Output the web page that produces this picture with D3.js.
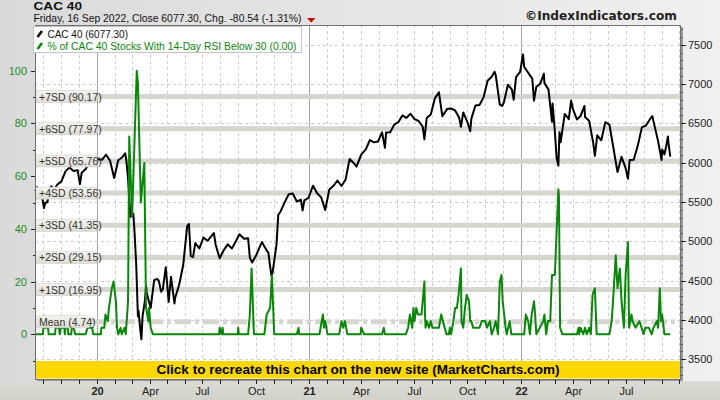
<!DOCTYPE html>
<html><head><meta charset="utf-8">
<script src="https://cdn.jsdelivr.net/npm/d3@7"></script>
<style>html,body{margin:0;padding:0;background:#e4e4e4}svg{display:block}</style>
</head><body><svg id="c" width="720" height="400"></svg>
<script>
// ---------- DATA ----------
const cacDates = ["2019-09-17","2019-09-20","2019-09-24","2019-09-27","2019-10-02","2019-10-04","2019-10-08","2019-10-11","2019-10-15","2019-10-18","2019-10-25","2019-11-01","2019-11-08","2019-11-15","2019-11-22","2019-11-29","2019-12-03","2019-12-06","2019-12-13","2019-12-20","2019-12-27",
"2020-01-03","2020-01-10","2020-01-17","2020-01-24","2020-01-31","2020-02-07","2020-02-14","2020-02-19","2020-02-21","2020-02-24","2020-02-28","2020-03-04","2020-03-06","2020-03-09","2020-03-12","2020-03-13","2020-03-16","2020-03-18","2020-03-20","2020-03-24","2020-03-26","2020-03-27","2020-04-01","2020-04-03","2020-04-09","2020-04-14","2020-04-17","2020-04-21","2020-04-24","2020-04-29","2020-05-04","2020-05-08","2020-05-14","2020-05-15","2020-05-22","2020-05-29","2020-06-05","2020-06-08","2020-06-11","2020-06-15","2020-06-19","2020-06-26","2020-07-03","2020-07-10","2020-07-17","2020-07-21","2020-07-24","2020-07-31","2020-08-07","2020-08-14","2020-08-21","2020-08-28","2020-09-03","2020-09-11","2020-09-18","2020-09-21","2020-09-25","2020-10-02","2020-10-09","2020-10-12","2020-10-16","2020-10-23","2020-10-28","2020-10-30","2020-11-06","2020-11-09","2020-11-13","2020-11-20","2020-11-27","2020-12-04","2020-12-11","2020-12-18","2020-12-21","2020-12-24","2020-12-31",
"2021-01-08","2021-01-15","2021-01-22","2021-01-29","2021-02-05","2021-02-12","2021-02-19","2021-02-26","2021-03-05","2021-03-12","2021-03-19","2021-03-24","2021-03-26","2021-04-01","2021-04-09","2021-04-16","2021-04-23","2021-04-30","2021-05-07","2021-05-12","2021-05-14","2021-05-21","2021-05-28","2021-06-04","2021-06-11","2021-06-18","2021-06-25","2021-07-02","2021-07-09","2021-07-16","2021-07-19","2021-07-23","2021-07-30","2021-08-06","2021-08-13","2021-08-19","2021-08-27","2021-09-03","2021-09-10","2021-09-17","2021-09-20","2021-09-24","2021-10-01","2021-10-06","2021-10-08","2021-10-15","2021-10-22","2021-10-29","2021-11-05","2021-11-12","2021-11-17","2021-11-19","2021-11-26","2021-11-30","2021-12-03","2021-12-10","2021-12-17","2021-12-20","2021-12-24","2021-12-31",
"2022-01-05","2022-01-07","2022-01-14","2022-01-21","2022-01-24","2022-01-28","2022-02-04","2022-02-10","2022-02-11","2022-02-18","2022-02-24","2022-02-25","2022-03-01","2022-03-04","2022-03-07","2022-03-09","2022-03-11","2022-03-18","2022-03-25","2022-03-29","2022-04-01","2022-04-08","2022-04-14","2022-04-21","2022-04-22","2022-04-29","2022-05-06","2022-05-09","2022-05-13","2022-05-20","2022-05-27","2022-06-03","2022-06-10","2022-06-16","2022-06-17","2022-06-24","2022-07-01","2022-07-05","2022-07-08","2022-07-15","2022-07-22","2022-07-29","2022-08-05","2022-08-12","2022-08-16","2022-08-19","2022-08-26","2022-09-01","2022-09-02","2022-09-06","2022-09-09","2022-09-12","2022-09-13","2022-09-16"];
const cacValues = [5640,5690,5580,5640,5422,5488,5500,5665,5700,5636,5722,5762,5889,5939,5894,5905,5727,5871,5919,6021,6037,
6044,6037,6101,6024,5806,6030,6069,6120,6029,5792,5310,5350,5139,4708,4044,4118,3881,3754,4048,4242,4432,4351,4207,4154,4507,4523,4499,4358,4393,4671,4230,4550,4210,4278,4445,4695,5197,5220,4816,4800,4979,4910,5049,5007,5069,5105,4957,4784,4889,4962,4909,5002,5090,5034,5039,4792,4730,4824,4946,4990,4935,4851,4571,4594,4960,5336,5380,5495,5598,5609,5507,5528,5393,5522,5551,
5707,5611,5559,5399,5659,5703,5773,5703,5782,6046,5997,5948,5989,6103,6169,6288,6258,6269,6385,6188,6385,6386,6484,6515,6600,6569,6622,6553,6530,6460,6296,6568,6613,6817,6896,6590,6681,6689,6663,6570,6455,6638,6518,6400,6560,6727,6733,6830,7041,7091,7156,7112,6739,6721,6765,6991,6927,6800,7086,7153,
7376,7219,7143,7068,6788,6965,7007,7130,7011,6929,6521,6752,6396,6061,5962,6388,6260,6620,6553,6790,6684,6549,6589,6721,6581,6534,6258,6087,6348,6285,6515,6485,6187,5920,5882,6074,5931,5795,6033,6036,6217,6449,6472,6553,6593,6496,6274,6034,6167,6105,6212,6333,6245,6077];

const rsiDates = ["2019-09-17","2019-09-30","2019-10-01","2019-10-09","2019-10-10","2019-10-21","2019-10-22","2019-10-28","2019-10-29","2019-10-31","2019-11-06","2019-11-07","2019-11-08","2019-11-12","2019-11-13","2019-11-18","2019-11-19","2019-11-22","2019-11-25","2019-12-13","2019-12-16","2019-12-24","2019-12-26",
"2020-01-08","2020-01-09","2020-01-14","2020-01-16","2020-01-20","2020-01-22","2020-01-27","2020-01-30","2020-02-03","2020-02-05","2020-02-07","2020-02-11","2020-02-13","2020-02-18","2020-02-20","2020-02-24","2020-02-26","2020-03-02","2020-03-10","2020-03-12","2020-03-17","2020-03-23","2020-03-26","2020-03-30","2020-03-31","2020-04-03","2020-04-07","2020-07-30","2020-07-31","2020-08-03","2020-08-05","2020-08-06","2020-08-31","2020-09-01","2020-09-02","2020-09-18","2020-09-21","2020-09-24","2020-09-28","2020-10-16","2020-10-20","2020-10-26","2020-10-29","2020-11-02","2020-12-11","2020-12-14","2020-12-15",
"2021-01-19","2021-01-21","2021-01-25","2021-01-27","2021-01-29","2021-02-02","2021-02-22","2021-02-24","2021-02-26","2021-03-01","2021-03-04","2021-03-08","2021-03-31","2021-04-01","2021-04-06","2021-05-07","2021-05-10","2021-05-12","2021-06-17","2021-06-21","2021-06-24","2021-06-28","2021-06-30","2021-07-02","2021-07-05","2021-07-08","2021-07-14","2021-07-19","2021-07-20","2021-07-21","2021-07-23","2021-07-27","2021-07-30","2021-08-02","2021-08-13","2021-08-17","2021-08-20","2021-08-23","2021-08-26","2021-08-30","2021-09-01","2021-09-03","2021-09-07","2021-09-10","2021-09-13","2021-09-16","2021-09-20","2021-09-21","2021-09-24","2021-09-27","2021-09-30","2021-10-04","2021-10-06","2021-10-08","2021-10-11","2021-10-22","2021-10-26","2021-11-01","2021-11-04","2021-11-09","2021-11-12","2021-11-16","2021-11-19","2021-11-23","2021-11-26","2021-11-29","2021-12-01","2021-12-06","2021-12-08","2021-12-13","2021-12-16",
"2022-01-07","2022-01-10","2022-01-14","2022-01-17","2022-01-20","2022-01-24","2022-01-26","2022-01-28","2022-02-03","2022-02-09","2022-02-11","2022-02-14","2022-02-17","2022-02-21","2022-02-24","2022-03-01","2022-03-07","2022-03-08","2022-03-10","2022-03-14","2022-04-08","2022-04-11","2022-04-12","2022-04-14","2022-04-19","2022-04-22","2022-04-25","2022-04-29","2022-05-02","2022-05-05","2022-05-09","2022-05-12","2022-06-03","2022-06-07","2022-06-10","2022-06-14","2022-06-17","2022-06-21","2022-06-24","2022-06-28","2022-07-01","2022-07-05","2022-07-07","2022-07-11","2022-07-13","2022-07-18","2022-07-25","2022-08-01","2022-08-04","2022-08-10","2022-08-15","2022-08-18","2022-08-24","2022-08-26","2022-08-29","2022-08-31","2022-09-02","2022-09-06","2022-09-16"];
const rsiValues = [0,0,2.5,2.5,0,0,2.5,2.5,0,2.5,2.5,0,2.5,2.5,0,0,2.5,2.5,0,0,2.5,2.5,0,
0,2.5,2.5,7.5,5,10,17.5,20,12.5,2.5,0,2.5,0,2.5,0,12.5,75,45,100,95,50,65,10,5,10,2.5,0,0,2.5,0,2.5,0,0,2.5,0,0,7.5,25,0,0,7.5,10,22.5,0,0,2.5,0,
0,2.5,7.5,2.5,5,0,0,2.5,5,2.5,5,0,0,2.5,0,0,2.5,0,0,2.5,7.5,2.5,10,5,10,7.5,7.5,20,7.5,2.5,5,2.5,5,2.5,2.5,7.5,5,2.5,0,0,2.5,0,5,10,10,15,25,5,2.5,10,15,12.5,5,5,2.5,2.5,5,5,2.5,5,0,2.5,5,0,20,22.5,12.5,2.5,0,5,0,
0,7.5,5,0,7.5,12.5,7.5,0,2.5,5,7.5,0,5,5,22.5,22.5,55,52.5,2.5,0,0,2.5,0,2.5,0,2.5,0,2.5,0,15,17.5,0,0,5,15,30,17.5,25,12.5,2.5,22.5,35,2.5,7.5,5,2.5,5,0,2.5,2.5,0,2.5,5,2.5,17.5,5,7.5,0,0];

const sdNames  = ["+7SD","+6SD","+5SD","+4SD","+3SD","+2SD","+1SD","Mean"];
const sdValues = [90.17,77.97,65.76,53.56,41.35,29.15,16.95,4.74];

const rightTicks = [3500,4000,4500,5000,5500,6000,6500,7000,7500];
const leftTicks  = [0,20,40,60,80,100];
const axisLabels = ["20","Apr","Jul","Oct","21","Apr","Jul","Oct","22","Apr","Jul"];
const axisLabelDates = ["2020-01-01","2020-04-01","2020-07-01","2020-10-01","2021-01-01","2021-04-01","2021-07-01","2021-10-01","2022-01-01","2022-04-01","2022-07-01"];

// ---------- LAYOUT ----------
const L=35,R=681,T=25,B=379;
const parse=d3.timeParse("%Y-%m-%d");
const svg=d3.select("#c");
const FONT="'Liberation Sans', Arial, sans-serif";

const x=d3.scaleTime().domain([new Date(2019,8,16,12),new Date(2022,9,4,12)]).range([L,R]);
const yR=d3.scaleLinear().domain([3250,7750]).range([B,T]);
const yL=d3.scaleLinear().domain([0,100]).range([334.3,70.7]);

// background
const defs=svg.append("defs");
const bg=defs.append("linearGradient").attr("id","bg").attr("x1",0).attr("x2",1).attr("y1",0).attr("y2",0);
bg.append("stop").attr("offset","0").attr("stop-color","#dadada");
bg.append("stop").attr("offset","1").attr("stop-color","#f0f0f0");
const bb=defs.append("linearGradient").attr("id","bb").attr("x1",0).attr("x2",0).attr("y1",0).attr("y2",1);
bb.append("stop").attr("offset","0").attr("stop-color","#dcdcd6");
bb.append("stop").attr("offset","1").attr("stop-color","#d2d2ca");
const lb=defs.append("linearGradient").attr("id","lb").attr("x1",0).attr("x2",0).attr("y1",0).attr("y2",1);
lb.append("stop").attr("offset","0").attr("stop-color","#f4f4f0");
lb.append("stop").attr("offset","1").attr("stop-color","#dedcd4");
svg.append("rect").attr("width",720).attr("height",400).attr("fill","url(#bg)");
svg.append("rect").attr("y",381).attr("width",720).attr("height",19).attr("fill","url(#bb)");

// plot background + shadow
svg.append("rect").attr("x",L+2).attr("y",T+2).attr("width",R-L).attr("height",B-T).attr("fill","#9a9a9a");
svg.append("rect").attr("x",L).attr("y",T).attr("width",R-L).attr("height",B-T).attr("fill","#fff");

const plot=svg.append("g");
// vertical grid
const months=d3.timeMonth.range(new Date(2019,9,1),new Date(2022,9,5));
plot.selectAll("line.vg").data(months).join("line")
  .attr("x1",d=>Math.round(x(d))+0.5).attr("x2",d=>Math.round(x(d))+0.5).attr("y1",T).attr("y2",B)
  .attr("stroke",d=>d.getMonth()===0?"#a4a4a4":"#cdcdcd").attr("stroke-width",1)
  .attr("stroke-dasharray",d=>d.getMonth()===0?null:"3,3");
// horizontal grid
plot.selectAll("line.hg").data(rightTicks).join("line")
  .attr("x1",L).attr("x2",R).attr("y1",d=>Math.round(yR(d))+0.5).attr("y2",d=>Math.round(yR(d))+0.5)
  .attr("stroke","#cdcdcd").attr("stroke-dasharray","3,3");

// SD bands
const sd=sdNames.map((n,i)=>({n,v:sdValues[i]}));
plot.selectAll("line.band").data(sd).join("line")
  .attr("x1",L).attr("x2",R).attr("y1",d=>yL(d.v)).attr("y2",d=>yL(d.v))
  .attr("stroke","#d6d6ce").attr("stroke-width",5)
  .attr("stroke-dasharray",d=>d.n==="Mean"?"16,4,4,4":null);

// lines
const cac=cacDates.map((d,i)=>({d:parse(d),v:cacValues[i]}));
const rsi=rsiDates.map((d,i)=>({d:parse(d),v:rsiValues[i]}));
plot.append("path").datum(cac).attr("fill","none").attr("stroke","#000").attr("stroke-width",2)
  .attr("stroke-linejoin","round").attr("d",d3.line().x(d=>x(d.d)).y(d=>yR(d.v)));
plot.append("path").datum(rsi).attr("fill","none").attr("stroke","#0a860a").attr("stroke-width",2)
  .attr("stroke-linejoin","round").attr("d",d3.line().x(d=>x(d.d)).y(d=>yL(d.v)));

// SD label boxes
const lab=svg.append("g");
sd.forEach(s=>{
  const yy=yL(s.v);
  const w=s.n==="Mean"?53:61;
  lab.append("rect").attr("x",L+1).attr("y",yy-6).attr("width",w).attr("height",12)
    .attr("fill","url(#lb)").attr("stroke","#d0d0c8").attr("stroke-width",0.6);
  lab.append("text").attr("x",L+4).attr("y",yy+4).attr("font-family",FONT).attr("font-size",10.5)
    .attr("fill","#333").text(`${s.n} (${s.v.toFixed(2)})`);
});

// banner
svg.append("rect").attr("x",L).attr("y",361).attr("width",R-L).attr("height",17.5).attr("fill","#ffd700");
svg.append("text").attr("x",358).attr("y",374).attr("text-anchor","middle").attr("font-family",FONT)
  .attr("font-weight","bold").attr("font-size",13).attr("textLength",403).attr("lengthAdjust","spacingAndGlyphs")
  .text("Click to recreate this chart on the new site (MarketCharts.com)");

// frame
svg.append("rect").attr("x",L+0.5).attr("y",T+0.5).attr("width",R-L-1).attr("height",B-T).attr("fill","none").attr("stroke","#707070");

// right axis
const rAx=svg.append("g");
d3.range(3300,7800,100).forEach(v=>{
  const yy=Math.round(yR(v))+0.5;
  const major=v%500===0;
  rAx.append("line").attr("x1",R).attr("x2",R+(major?5:2)).attr("y1",yy).attr("y2",yy).attr("stroke",major?"#222":"#555");
});
rAx.selectAll("text").data(rightTicks).join("text").attr("x",688).attr("y",d=>yR(d)+4)
  .attr("font-family",FONT).attr("font-size",11).attr("fill","#222").text(d=>d);

// left axis
const lAx=svg.append("g");
d3.range(-10,120,10).forEach(v=>{
  const yy=Math.round(yL(v))+0.5;
  if(yy<T||yy>B) return;
  lAx.append("line").attr("x1",L-(v%20===0?4:2)).attr("x2",L).attr("y1",yy).attr("y2",yy).attr("stroke","#222");
});
lAx.selectAll("text").data(leftTicks).join("text").attr("x",27).attr("y",d=>yL(d)+4).attr("text-anchor","end")
  .attr("font-family",FONT).attr("font-size",11).attr("fill","#1f8a1f").text(d=>d);

// bottom axis
const bAx=svg.append("g");
months.forEach(m=>{
  const xx=Math.round(x(m))+0.5;
  bAx.append("line").attr("x1",xx).attr("x2",xx).attr("y1",B+1).attr("y2",B+5).attr("stroke","#222");
});
axisLabels.forEach((t,i)=>{
  const xx=Math.round(x(parse(axisLabelDates[i])))+0.5;
  const bold=/^\d+$/.test(t);
  bAx.append("text").attr("x",xx).attr("y",395).attr("text-anchor","middle").attr("font-family",FONT)
    .attr("font-size",11).attr("font-weight",bold?"bold":"normal").attr("fill","#222").text(t);
});

// legend
const lg=svg.append("g");
lg.append("rect").attr("x",33.5).attr("y",26.5).attr("width",268).attr("height",26).attr("fill","#fff").attr("stroke","#c4c4c4");
lg.append("line").attr("x1",37.5).attr("y1",37).attr("x2",42).attr("y2",31).attr("stroke","#000").attr("stroke-width",2.5);
lg.append("line").attr("x1",37.5).attr("y1",49).attr("x2",42).attr("y2",43).attr("stroke","#0a860a").attr("stroke-width",2.5);
lg.append("text").attr("x",47.5).attr("y",37.5).attr("font-family",FONT).attr("font-size",11.5).attr("fill","#111")
  .attr("textLength",80.5).attr("lengthAdjust","spacingAndGlyphs").text("CAC 40 (6077.30)");
lg.append("text").attr("x",47.5).attr("y",49.5).attr("font-family",FONT).attr("font-size",11.5).attr("fill","#0a860a")
  .attr("textLength",249).attr("lengthAdjust","spacingAndGlyphs").text("% of CAC 40 Stocks With 14-Day RSI Below 30 (0.00)");

// header
svg.append("text").attr("x",33.5).attr("y",10).attr("font-family",FONT).attr("font-weight","bold").attr("font-size",11.5)
  .attr("textLength",48.5).attr("lengthAdjust","spacingAndGlyphs").attr("fill","#111").text("CAC 40");
svg.append("text").attr("x",33.5).attr("y",22).attr("font-family",FONT).attr("font-size",10.5)
  .attr("textLength",268).attr("lengthAdjust","spacingAndGlyphs").attr("fill","#111")
  .text("Friday, 16 Sep 2022, Close 6077.30, Chg. -80.54 (-1.31%)");
svg.append("path").attr("d","M307,18 L315.5,18 L311.25,22.5 Z").attr("fill","#d00000");
svg.append("text").attr("x",677).attr("y",19.5).attr("text-anchor","end").attr("font-family","'DejaVu Sans', sans-serif")
  .attr("font-weight","bold").attr("font-size",13).attr("textLength",152).attr("lengthAdjust","spacingAndGlyphs")
  .attr("fill","#222").text("©IndexIndicators.com");
</script></body></html>
